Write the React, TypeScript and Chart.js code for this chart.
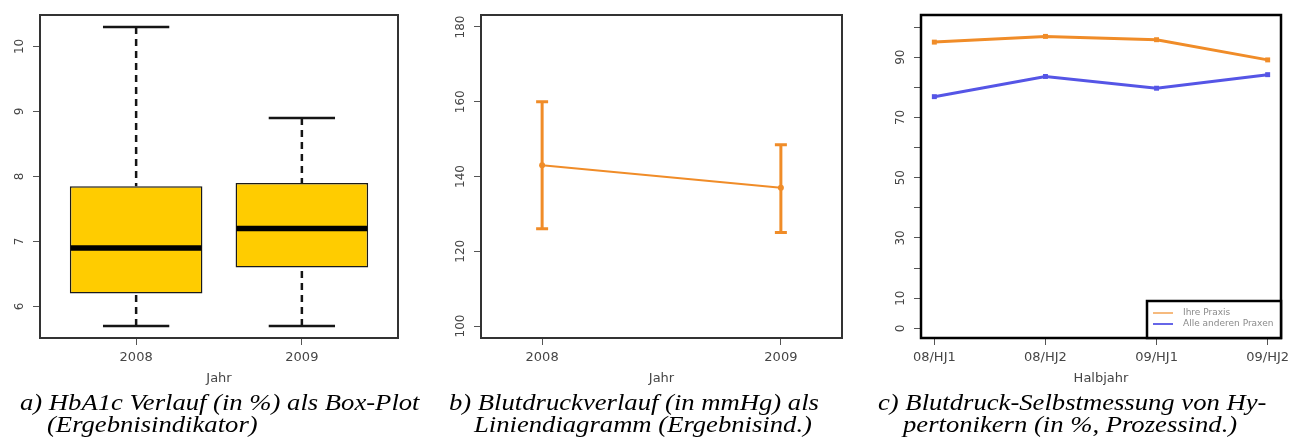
import React, { useEffect, useRef } from "react";
import { Chart, registerables } from "chart.js";

Chart.register(...registerables);

// ---------------- data ----------------
// a) HbA1c box plot
const boxYears = ["2008", "2009"];
const boxLowerWhisker = [5.7, 5.7];
const boxLowerQuartile = [6.2, 6.6];
const boxMedian = [6.9, 7.2];
const boxUpperQuartile = [7.85, 7.9];
const boxUpperWhisker = [10.3, 8.9];
const boxYTicks = [6, 7, 8, 9, 10];

// b) blood pressure with error bars
const bpYears = ["2008", "2009"];
const bpMean = [143, 137];
const bpLower = [126, 125];
const bpUpper = [160, 148.5];
const bpYTicks = [100, 120, 140, 160, 180];

// c) self measurement
const halfYears = ["08/HJ1", "08/HJ2", "09/HJ1", "09/HJ2"];
const ownPractice = [95.0, 96.9, 95.8, 89.1];
const otherPractices = [76.9, 83.6, 79.7, 84.2];
const seriesNames = ["Ihre Praxis", "Alle anderen Praxen"];
const selfYTicks = [0, 10, 20, 30, 40, 50, 60, 70, 80, 90, 100];
const selfYTickLabels = ["0", "10", "", "30", "", "50", "", "70", "", "90", ""];

const captions = [
  ["a) HbA1c Verlauf (in %) als Box-Plot", "(Ergebnisindikator)"],
  ["b) Blutdruckverlauf (in mmHg) als", "Liniendiagramm (Ergebnisind.)"],
  ["c) Blutdruck-Selbstmessung von Hy-", "pertonikern (in %, Prozessind.)"],
];

// ---------------- styles ----------------
const TEXT = "#454545";
const SANS = "'DejaVu Sans', 'Liberation Sans', sans-serif";
const TICK_FONT = { family: SANS, size: 13 };
const ORANGE = "rgb(240,140,40)";
const BLUE = "rgb(85,85,230)";
const YELLOW = "#FFCC00";

function xAxis(min: number, max: number, labels: string[], title: string, height: number) {
  return {
    type: "linear",
    min,
    max,
    offset: false,
    bounds: "data",
    afterBuildTicks: (s: any) => {
      s.ticks = labels.map((_, i) => ({ value: i + 1 }));
    },
    afterFit: (s: any) => {
      s.height = height;
      s.paddingLeft = 0;
      s.paddingRight = 0;
    },
    ticks: {
      autoSkip: false,
      maxRotation: 0,
      minRotation: 0,
      padding: 5,
      color: TEXT,
      font: TICK_FONT,
      callback: (v: number) => labels[Math.round(v) - 1] ?? "",
    },
    grid: {
      display: true,
      drawOnChartArea: false,
      drawTicks: true,
      tickLength: 7,
      tickColor: "#555",
      tickWidth: 1,
      offset: false,
    },
    border: { display: false },
    title: { display: true, text: title, color: TEXT, font: TICK_FONT, padding: { top: 0, bottom: 4 } },
  };
}

function yAxis(min: number, max: number, ticks: number[], width: number) {
  return {
    type: "linear",
    min,
    max,
    bounds: "data",
    afterBuildTicks: (s: any) => {
      s.ticks = ticks.map((v) => ({ value: v }));
    },
    afterFit: (s: any) => {
      s.width = width;
      s.paddingTop = 0;
      s.paddingBottom = 0;
    },
    ticks: { display: false },
    grid: {
      display: true,
      drawOnChartArea: false,
      drawTicks: true,
      tickLength: 7,
      tickColor: "#555",
      tickWidth: 1,
    },
    border: { display: false },
  };
}

// frame around plot area + rotated y tick labels (R style)
function framePlugin(labels: string[], color: string, lineWidth: number) {
  return {
    id: "frameAndYLabels",
    afterDraw(chart: any) {
      const { ctx, chartArea: ca } = chart;
      const y = chart.scales.y;
      ctx.save();
      ctx.strokeStyle = color;
      ctx.lineWidth = lineWidth;
      ctx.setLineDash([]);
      ctx.strokeRect(ca.left, ca.top, ca.right - ca.left, ca.bottom - ca.top);
      ctx.fillStyle = TEXT;
      ctx.font = `12px ${SANS}`;
      ctx.textAlign = "center";
      ctx.textBaseline = "middle";
      y.ticks.forEach((t: any, i: number) => {
        const label = labels[i];
        if (!label) return;
        const py = y.getPixelForValue(t.value);
        ctx.save();
        ctx.translate(ca.left - 20, py);
        ctx.rotate(-Math.PI / 2);
        ctx.fillText(label, 0, 0);
        ctx.restore();
      });
      ctx.restore();
    },
  };
}

const boxplotPlugin = {
  id: "boxplotParts",
  afterDatasetsDraw(chart: any) {
    const { ctx } = chart;
    const x = chart.scales.x;
    const y = chart.scales.y;
    const bars = chart.getDatasetMeta(0).data;
    ctx.save();
    boxYears.forEach((_, i) => {
      const cx = x.getPixelForValue(i + 1);
      const bw = bars[i].width;
      ctx.strokeStyle = "#151515";
      // whiskers (dashed)
      ctx.lineWidth = 2.5;
      ctx.setLineDash([7, 5]);
      ctx.beginPath();
      ctx.moveTo(cx, y.getPixelForValue(boxUpperWhisker[i]));
      ctx.lineTo(cx, y.getPixelForValue(boxUpperQuartile[i]));
      ctx.moveTo(cx, y.getPixelForValue(boxLowerWhisker[i]));
      ctx.lineTo(cx, y.getPixelForValue(boxLowerQuartile[i]));
      ctx.stroke();
      // caps
      ctx.setLineDash([]);
      ctx.lineWidth = 2.5;
      ctx.beginPath();
      [boxUpperWhisker[i], boxLowerWhisker[i]].forEach((v) => {
        const py = y.getPixelForValue(v);
        ctx.moveTo(cx - bw / 4, py);
        ctx.lineTo(cx + bw / 4, py);
      });
      ctx.stroke();
      // median
      ctx.lineWidth = 5.5;
      ctx.strokeStyle = "#000";
      ctx.beginPath();
      const my = y.getPixelForValue(boxMedian[i]);
      ctx.moveTo(cx - bw / 2 + 1, my);
      ctx.lineTo(cx + bw / 2 - 1, my);
      ctx.stroke();
    });
    ctx.restore();
  },
};

const errorBarPlugin = {
  id: "errorBars",
  beforeDatasetsDraw(chart: any) {
    const { ctx } = chart;
    const x = chart.scales.x;
    const y = chart.scales.y;
    ctx.save();
    ctx.strokeStyle = ORANGE;
    ctx.lineWidth = 3;
    bpYears.forEach((_, i) => {
      const cx = x.getPixelForValue(i + 1);
      const top = y.getPixelForValue(bpUpper[i]);
      const bot = y.getPixelForValue(bpLower[i]);
      ctx.beginPath();
      ctx.moveTo(cx, top);
      ctx.lineTo(cx, bot);
      ctx.moveTo(cx - 6, top);
      ctx.lineTo(cx + 6, top);
      ctx.moveTo(cx - 6, bot);
      ctx.lineTo(cx + 6, bot);
      ctx.stroke();
    });
    ctx.restore();
  },
};

const boxLegendPlugin = {
  id: "boxLegend",
  afterDraw(chart: any) {
    const { ctx, chartArea: ca } = chart;
    ctx.save();
    const left = ca.right - 134;
    const top = ca.bottom - 37;
    ctx.fillStyle = "#fff";
    ctx.fillRect(left, top, ca.right - left, ca.bottom - top);
    ctx.strokeStyle = "#000";
    ctx.lineWidth = 2.5;
    ctx.strokeRect(left, top, ca.right - left, ca.bottom - top);
    ctx.beginPath();
    ctx.rect(left, top, ca.right - left - 1, ca.bottom - top);
    ctx.clip();
    const rows = [ca.bottom - 25, ca.bottom - 14];
    chart.data.datasets.forEach((ds: any, i: number) => {
      ctx.strokeStyle = ds.borderColor;
      ctx.globalAlpha = i === 0 ? 0.6 : 0.9;
      ctx.lineWidth = 2;
      ctx.beginPath();
      ctx.moveTo(ca.right - 128, rows[i]);
      ctx.lineTo(ca.right - 108, rows[i]);
      ctx.stroke();
      ctx.globalAlpha = 1;
      ctx.fillStyle = "#8a8a8a";
      ctx.font = `9px ${SANS}`;
      ctx.textAlign = "left";
      ctx.textBaseline = "middle";
      ctx.fillText(ds.label, ca.right - 98, rows[i]);
    });
    ctx.restore();
  },
};

const baseOptions = {
  responsive: false,
  animation: false,
  events: [],
  plugins: { legend: { display: false }, tooltip: { enabled: false }, title: { display: false } },
};

function configA(): any {
  return {
    type: "bar",
    data: {
      datasets: [
        {
          data: boxYears.map((_, i) => ({ x: i + 1, y: [boxLowerQuartile[i], boxUpperQuartile[i]] })),
          backgroundColor: YELLOW,
          borderColor: "#1a1a1a",
          borderWidth: 1.5,
          borderSkipped: false,
          categoryPercentage: 1,
          barPercentage: 0.8,
        },
      ],
    },
    options: {
      ...baseOptions,
      layout: { padding: { left: 0, right: 12, top: 15, bottom: 0 } },
      scales: {
        x: xAxis(0.42, 2.58, boxYears, "Jahr", 52),
        y: yAxis(5.516, 10.484, boxYTicks, 40),
      },
    },
    plugins: [boxplotPlugin, framePlugin(boxYTicks.map(String), "#333", 2)],
  };
}

function configB(): any {
  return {
    type: "line",
    data: {
      datasets: [
        {
          data: bpYears.map((_, i) => ({ x: i + 1, y: bpMean[i] })),
          borderColor: ORANGE,
          backgroundColor: ORANGE,
          borderWidth: 2,
          pointRadius: 3,
          pointBorderWidth: 0,
          tension: 0,
        },
      ],
    },
    options: {
      ...baseOptions,
      layout: { padding: { left: 0, right: 12, top: 15, bottom: 0 } },
      scales: {
        x: xAxis(0.744, 2.256, bpYears, "Jahr", 52),
        y: yAxis(96.8, 183.2, bpYTicks, 47),
      },
    },
    plugins: [errorBarPlugin, framePlugin(bpYTicks.map(String), "#333", 2)],
  };
}

function configC(): any {
  return {
    type: "line",
    data: {
      datasets: [
        {
          label: seriesNames[0],
          data: halfYears.map((_, i) => ({ x: i + 1, y: ownPractice[i] })),
          borderColor: ORANGE,
          backgroundColor: ORANGE,
          borderWidth: 3,
          pointStyle: "rect",
          pointRadius: 3.5,
          pointBorderWidth: 0,
          tension: 0,
        },
        {
          label: seriesNames[1],
          data: halfYears.map((_, i) => ({ x: i + 1, y: otherPractices[i] })),
          borderColor: BLUE,
          backgroundColor: BLUE,
          borderWidth: 3,
          pointStyle: "rect",
          pointRadius: 3.5,
          pointBorderWidth: 0,
          tension: 0,
        },
      ],
    },
    options: {
      ...baseOptions,
      layout: { padding: { left: 0, right: 21, top: 15, bottom: 0 } },
      scales: {
        x: xAxis(0.88, 4.12, halfYears, "Halbjahr", 52),
        y: yAxis(-3.2, 104, selfYTicks, 53),
      },
    },
    plugins: [framePlugin(selfYTickLabels, "#000", 2.5), boxLegendPlugin],
  };
}

function Panel({ left, width, height, make }: { left: number; width: number; height: number; make: () => any }) {
  const ref = useRef<HTMLCanvasElement | null>(null);
  useEffect(() => {
    if (!ref.current) return;
    const chart = new Chart(ref.current, make());
    return () => chart.destroy();
  }, [make]);
  return (
    <canvas
      ref={ref}
      width={width}
      height={height}
      style={{ position: "absolute", left, top: 0, width, height }}
    />
  );
}

const captionPos = [
  [20, 47],
  [449, 474],
  [878, 903],
];

export default function App() {
  return (
    <div
      style={{
        position: "absolute",
        left: 0,
        top: 0,
        width: 1302,
        height: 447,
        background: "#fff",
        overflow: "hidden",
      }}
    >
      <Panel left={0} width={410} height={390} make={configA} />
      <Panel left={434} width={420} height={390} make={configB} />
      <Panel left={868} width={434} height={390} make={configC} />
      {captions.map((lines, p) =>
        lines.map((text, l) => (
          <div
            key={`${p}-${l}`}
            style={{
              position: "absolute",
              left: captionPos[p][l],
              top: l === 0 ? 392 : 414,
              fontFamily: "'Liberation Serif', 'Times New Roman', serif",
              fontStyle: "italic",
              fontSize: 24,
              lineHeight: "21px",
              whiteSpace: "nowrap",
              color: "#000",
              transform: "scaleX(1.11)",
              transformOrigin: "left top",
            }}
          >
            {text}
          </div>
        ))
      )}
    </div>
  );
}
